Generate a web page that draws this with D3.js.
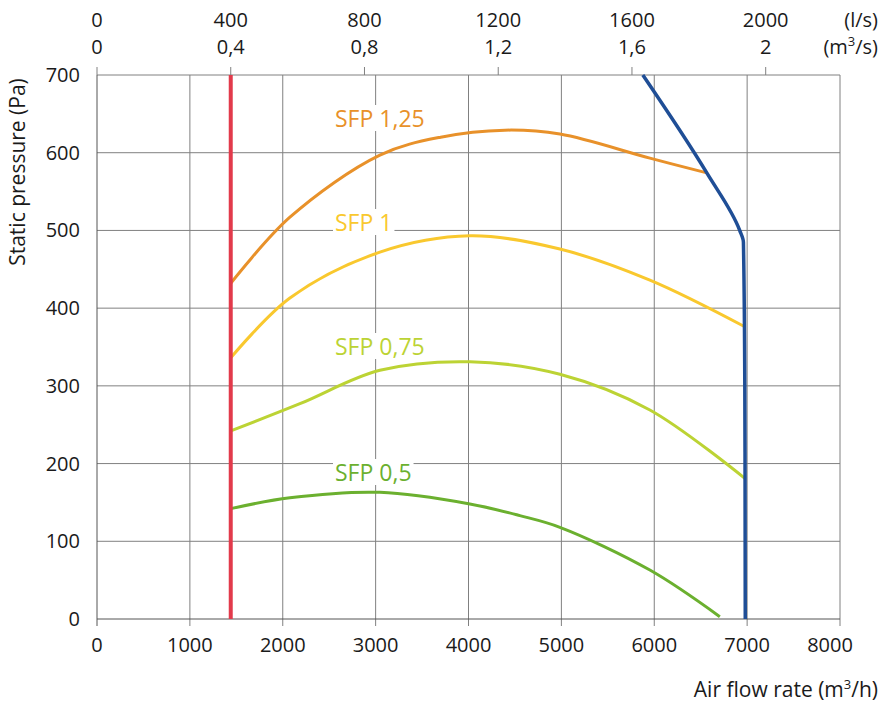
<!DOCTYPE html>
<html><head><meta charset="utf-8">
<script src="https://cdn.jsdelivr.net/npm/d3@7"></script>
<style>body{margin:0;background:#fff}text{font-family:"Open Sans",sans-serif;fill:#1a1a1a}</style>
</head><body><div id="chart"></div>
<script>
// data (x in m3/h, y in Pa)
var xTicks = [0, 1000, 2000, 3000, 4000, 5000, 6000, 7000, 8000];
var yTicks = [0, 100, 200, 300, 400, 500, 600, 700];
var lsTicks = ["0", "400", "800", "1200", "1600", "2000"];
var m3sTicks = ["0", "0,4", "0,8", "1,2", "1,6", "2"];
var sfp125 = [[1440,432],[2077,517],[3046,597],[3700,620],[4392,629],[4984,624],[5953,593],[6566,574]];
var sfp1 = [[1440,336],[2077,413],[3046,472],[4015,493],[4984,476],[5953,436],[6975,376]];
var sfp075 = [[1440,242],[2185,277],[3046,320],[4015,331],[4984,315],[5953,269],[6975,181]];
var sfp05 = [[1440,142],[2077,156],[3046,163],[4015,148],[4553,133],[4984,118],[5953,63],[6706,3]];
var limitLine = [[1440,0],[1440,700]];
var fanCurve = [[5877,700],[6566,574],[6920,500],[6960,485],[6975,300],[6980,0]];

var svg = d3.select("#chart").append("svg").attr("width", 890).attr("height", 707);
var x = d3.scaleLinear().domain([0, 8000]).range([97, 840]);
var y = d3.scaleLinear().domain([0, 700]).range([619, 75]);

// grid
svg.selectAll(".gx").data(xTicks.slice(1)).enter().append("line")
  .attr("x1", d => x(d)).attr("x2", d => x(d)).attr("y1", y(0) + 7).attr("y2", y(700))
  .attr("stroke", "#808080").attr("stroke-width", 1);
svg.selectAll(".gy").data(yTicks.slice(1)).enter().append("line")
  .attr("x1", x(0)).attr("x2", x(8000)).attr("y1", d => y(d)).attr("y2", d => y(d))
  .attr("stroke", "#808080").attr("stroke-width", 1);
svg.selectAll(".tt").data(lsTicks).enter().append("line")
  .attr("x1", (d, i) => x(i * 1440)).attr("x2", (d, i) => x(i * 1440)).attr("y1", 67).attr("y2", 75)
  .attr("stroke", "#808080");
svg.append("line").attr("x1", x(0)).attr("x2", x(0)).attr("y1", y(0) + 7).attr("y2", y(700)).attr("stroke", "#555");
svg.append("line").attr("x1", x(0)).attr("x2", x(8000)).attr("y1", y(0)).attr("y2", y(0)).attr("stroke", "#555");

// tick labels
svg.selectAll(".tx").data(xTicks).enter().append("text")
  .attr("x", d => x(d) - (d === 8000 ? 10 : 0)).attr("y", 652).attr("text-anchor", "middle").attr("font-size", 20).text(d => d);
svg.selectAll(".ty").data(yTicks).enter().append("text")
  .attr("x", 80).attr("y", d => y(d) + 7).attr("text-anchor", "end").attr("font-size", 20).text(d => d);
svg.selectAll(".tl").data(lsTicks).enter().append("text")
  .attr("x", (d, i) => x(i * 1440)).attr("y", 27).attr("text-anchor", "middle").attr("font-size", 20).text(d => d);
svg.selectAll(".tm").data(m3sTicks).enter().append("text")
  .attr("x", (d, i) => x(i * 1440)).attr("y", 54).attr("text-anchor", "middle").attr("font-size", 20).text(d => d);
svg.append("text").attr("x", 878).attr("y", 27).attr("text-anchor", "end").attr("font-size", 20).text("(l/s)");
svg.append("text").attr("x", 878).attr("y", 54).attr("text-anchor", "end").attr("font-size", 20)
  .html('(m<tspan dy="-8" font-size="13">3</tspan><tspan dy="8">/s)</tspan>');
svg.append("text").attr("x", 878).attr("y", 697).attr("text-anchor", "end").attr("font-size", 21)
  .html('Air flow rate (m<tspan dy="-8" font-size="13">3</tspan><tspan dy="8">/h)</tspan>');
svg.append("text").attr("transform", "translate(25,172) rotate(-90)").attr("text-anchor", "middle")
  .attr("font-size", 21).text("Static pressure (Pa)");

// curves
var line = d3.line().x(d => x(d[0])).y(d => y(d[1])).curve(d3.curveCatmullRom);
var series = [
  {data: sfp125, color: "#e8912a", label: "SFP 1,25", lx: 335, ly: 127},
  {data: sfp1, color: "#f9c82e", label: "SFP 1", lx: 335, ly: 231},
  {data: sfp075, color: "#bcd334", label: "SFP 0,75", lx: 335, ly: 355},
  {data: sfp05, color: "#6bb02f", label: "SFP 0,5", lx: 335, ly: 481}
];
series.forEach(function(s) {
  svg.append("path").attr("d", line(s.data)).attr("fill", "none").attr("stroke", s.color).attr("stroke-width", 3);
});
series.forEach(function(s) {
  var t = svg.append("text").attr("x", s.lx).attr("y", s.ly).attr("font-size", 23).text(s.label);
  var b = t.node().getBBox();
  svg.insert("rect", function() { return t.node(); }).attr("x", b.x - 2).attr("y", b.y + 3)
    .attr("width", b.width + 4).attr("height", b.height - 6).attr("fill", "#fff");
  t.style("fill", s.color);
});
svg.append("path").attr("d", d3.line().x(d => x(d[0])).y(d => y(d[1]))(limitLine))
  .attr("fill", "none").attr("stroke", "#e23a4b").attr("stroke-width", 4);
svg.append("path").attr("d", d3.line().x(d => x(d[0])).y(d => y(d[1])).curve(d3.curveMonotoneY)(fanCurve.slice().reverse()))
  .attr("fill", "none").attr("stroke", "#1f4e96").attr("stroke-width", 3.5);
</script></body></html>
